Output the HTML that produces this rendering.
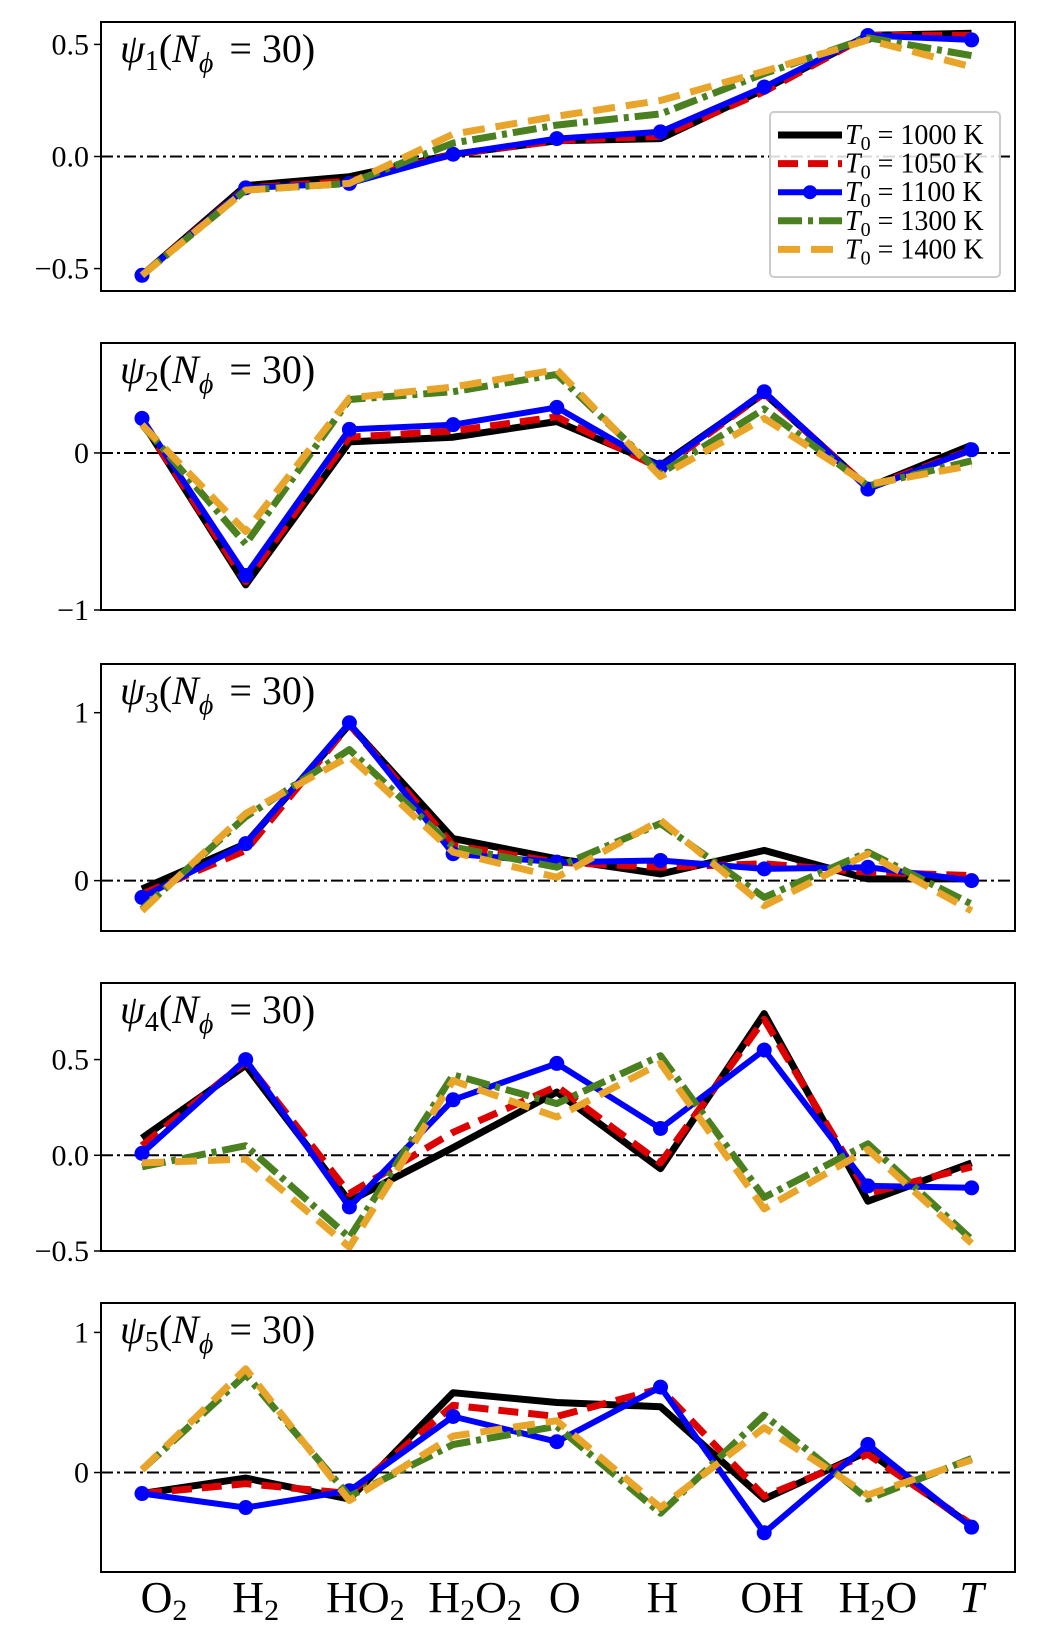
<!DOCTYPE html>
<html><head><meta charset="utf-8">
<style>
html,body{margin:0;padding:0;background:#fff;}
svg{display:block;font-family:"Liberation Serif","DejaVu Serif",serif;}
</style></head>
<body>
<svg id="chart" width="1037" height="1625" viewBox="0 0 1037 1625" xmlns="http://www.w3.org/2000/svg"></svg>
<script>
const categories = ["O2","H2","HO2","H2O2","O","H","OH","H2O","T"];
const seriesNames = ["T0 = 1000 K","T0 = 1050 K","T0 = 1100 K","T0 = 1300 K","T0 = 1400 K"];
const psi1_1000 = [-0.53,-0.13,-0.09,0.01,0.07,0.08,0.30,0.54,0.55];
const psi1_1050 = [-0.53,-0.14,-0.11,0.01,0.07,0.09,0.29,0.54,0.54];
const psi1_1100 = [-0.53,-0.14,-0.12,0.01,0.08,0.11,0.31,0.54,0.52];
const psi1_1300 = [-0.53,-0.15,-0.12,0.06,0.14,0.19,0.37,0.53,0.45];
const psi1_1400 = [-0.53,-0.15,-0.12,0.10,0.18,0.25,0.38,0.52,0.40];
const psi2_1000 = [0.20,-0.84,0.07,0.10,0.20,-0.08,0.38,-0.22,0.05];
const psi2_1050 = [0.20,-0.82,0.10,0.14,0.23,-0.10,0.38,-0.22,0.02];
const psi2_1100 = [0.22,-0.78,0.15,0.18,0.29,-0.09,0.39,-0.23,0.02];
const psi2_1300 = [0.18,-0.58,0.34,0.39,0.50,-0.13,0.28,-0.21,-0.05];
const psi2_1400 = [0.18,-0.50,0.35,0.42,0.53,-0.15,0.22,-0.20,-0.08];
const psi3_1000 = [-0.05,0.22,0.93,0.25,0.13,0.04,0.18,0.01,0.01];
const psi3_1050 = [-0.08,0.18,0.93,0.21,0.11,0.08,0.10,0.05,0.03];
const psi3_1100 = [-0.10,0.22,0.94,0.16,0.11,0.12,0.07,0.08,0.00];
const psi3_1300 = [-0.17,0.38,0.78,0.20,0.08,0.34,-0.10,0.17,-0.14];
const psi3_1400 = [-0.18,0.40,0.74,0.17,0.02,0.36,-0.15,0.16,-0.18];
const psi4_1000 = [0.09,0.47,-0.24,0.04,0.33,-0.07,0.74,-0.24,-0.04];
const psi4_1050 = [0.05,0.49,-0.20,0.12,0.36,-0.04,0.71,-0.20,-0.06];
const psi4_1100 = [0.01,0.50,-0.27,0.29,0.48,0.14,0.55,-0.16,-0.17];
const psi4_1300 = [-0.06,0.05,-0.43,0.42,0.27,0.52,-0.22,0.06,-0.44];
const psi4_1400 = [-0.04,-0.02,-0.48,0.39,0.20,0.48,-0.28,0.03,-0.46];
const psi5_1000 = [-0.15,-0.04,-0.19,0.57,0.50,0.47,-0.19,0.15,-0.38];
const psi5_1050 = [-0.15,-0.08,-0.15,0.48,0.40,0.60,-0.17,0.13,-0.37];
const psi5_1100 = [-0.15,-0.25,-0.13,0.40,0.22,0.61,-0.43,0.20,-0.39];
const psi5_1300 = [0.02,0.70,-0.17,0.20,0.33,-0.29,0.41,-0.19,0.10];
const psi5_1400 = [0.02,0.74,-0.20,0.26,0.37,-0.25,0.32,-0.16,0.09];
const ticks1 = [0.5,0.0,-0.5], tickLabels1 = ["0.5","0.0","\u22120.5"];
const ticks2 = [0,-1], tickLabels2 = ["0","\u22121"];
const ticks3 = [1,0], tickLabels3 = ["1","0"];
const ticks4 = [0.5,0.0,-0.5], tickLabels4 = ["0.5","0.0","\u22120.5"];
const ticks5 = [1,0], tickLabels5 = ["1","0"];

const NS="http://www.w3.org/2000/svg";
const svg=document.getElementById('chart');
function mk(tag,attrs,parent){const e=document.createElementNS(NS,tag);for(const k in attrs)e.setAttribute(k,attrs[k]);(parent||svg).appendChild(e);return e;}
const X0=101,X1=1015;
const xScale=i=>142+i*103.7;
const styles=[
 {c:"#000000",w:7,d:null,m:false},
 {c:"#dd0000",w:7,d:"20 10",m:false},
 {c:"#0000ff",w:6,d:null,m:true},
 {c:"#4a8020",w:7,d:"24 6 5 6",m:false},
 {c:"#e8a52a",w:7,d:"22 11",m:false}
];
const panels=[
 {top:22,bot:291,ymin:-0.6,ymax:0.6,ticks:ticks1,labels:tickLabels1,data:[psi1_1000,psi1_1050,psi1_1100,psi1_1300,psi1_1400],n:"1"},
 {top:343,bot:610,ymin:-1.0,ymax:0.70,ticks:ticks2,labels:tickLabels2,data:[psi2_1000,psi2_1050,psi2_1100,psi2_1300,psi2_1400],n:"2"},
 {top:664,bot:931,ymin:-0.30,ymax:1.29,ticks:ticks3,labels:tickLabels3,data:[psi3_1000,psi3_1050,psi3_1100,psi3_1300,psi3_1400],n:"3"},
 {top:983,bot:1251,ymin:-0.50,ymax:0.90,ticks:ticks4,labels:tickLabels4,data:[psi4_1000,psi4_1050,psi4_1100,psi4_1300,psi4_1400],n:"4"},
 {top:1303,bot:1572,ymin:-0.71,ymax:1.21,ticks:ticks5,labels:tickLabels5,data:[psi5_1000,psi5_1050,psi5_1100,psi5_1300,psi5_1400],n:"5"}
];
panels.forEach((p,pi)=>{
  const g=mk('g',{});
  
  
  const y=v=>p.bot-(v-p.ymin)/(p.ymax-p.ymin)*(p.bot-p.top);
  const cid='clip'+pi;
  const cp=mk('clipPath',{id:cid},g);mk('rect',{x:X0,y:p.top,width:X1-X0,height:p.bot-p.top},cp);
  const zl=mk('line',{x1:X0,x2:X1,y1:y(0),y2:y(0),stroke:"#000","stroke-width":2,"stroke-dasharray":"12 4 3 4"},g);
  
  
  p.data.forEach((arr,si)=>{
    const s=styles[si];
    const pts=arr.map((v,i)=>xScale(i).toFixed(1)+","+y(v).toFixed(1)).join(" ");
    const a={points:pts,fill:"none",stroke:s.c,"stroke-width":s.w,"stroke-linejoin":"round","clip-path":"url(#"+cid+")"};
    if(s.d)a["stroke-dasharray"]=s.d;
    const pl=mk('polyline',a,g);
    
    
    if(s.m){arr.forEach((v,i)=>{const c=mk('circle',{cx:xScale(i),cy:y(v),r:7.5,fill:s.c},g);
      
      });}
  });
  const fr=mk('rect',{x:X0,y:p.top,width:X1-X0,height:p.bot-p.top,fill:"none",stroke:"#000","stroke-width":2},g);
  
  
  p.ticks.forEach((t,ti)=>{
    mk('line',{x1:X0-7,x2:X0,y1:y(t),y2:y(t),stroke:"#000","stroke-width":1.5},g);
    const tx=mk('text',{x:X0-12,y:y(t)+10,"text-anchor":"end","font-size":30},g);
    tx.textContent=p.labels[ti];
    
    
  });
  const tt=mk('text',{x:120,y:p.top+40,"font-size":40},g);
  
  
  tt.innerHTML='<tspan font-style="italic">ψ</tspan><tspan font-size="28" dy="8">'+p.n+'</tspan><tspan dy="-8">(</tspan><tspan font-style="italic">N</tspan><tspan font-style="italic" font-size="28" dy="10">ϕ</tspan><tspan dy="-10"> </tspan><tspan dx="6">=</tspan><tspan dx="10">30)</tspan>';
});
// x labels
const xl=[["O","2"],["H","2"],["HO","2"],["H","2","O","2"],["O"],["H"],["OH"],["H","2","O"],["T"]];
const xlOff=[22,10,16,22,8,2,8,10,0];
xl.forEach((parts,i)=>{
  const t=mk('text',{x:xScale(i)+xlOff[i],y:1612,"text-anchor":"middle","font-size":44});
  
  
  let h='';
  parts.forEach((s,k)=>{
    if(/^\d$/.test(s))h+='<tspan font-size="30" dy="8">'+s+'</tspan>';
    else if(k>0&&/^\d$/.test(parts[k-1]))h+='<tspan dy="-8">'+s+'</tspan>';
    else h+= (s==="T"?'<tspan font-style="italic">T</tspan>':'<tspan>'+s+'</tspan>');
  });
  t.innerHTML=h;
});
// legend
const lg=mk('g',{});


mk('rect',{x:770,y:112,width:230,height:165,rx:4,fill:"rgba(255,255,255,0.85)",stroke:"#ccc","stroke-width":2},lg);
seriesNames.forEach((nm,si)=>{
  const s=styles[si];const ly=135+si*28.6;
  const e=mk('g',{},lg);
  
  
  const a={x1:778,x2:842,y1:ly,y2:ly,stroke:s.c,"stroke-width":s.w};
  if(s.d)a["stroke-dasharray"]=s.d;
  mk('line',a,e);
  if(s.m)mk('circle',{cx:810,cy:ly,r:7,fill:s.c},e);
  const t=mk('text',{x:845,y:ly+9,"font-size":28},e);
  t.innerHTML='<tspan font-style="italic">T</tspan><tspan font-size="20" dy="6">0</tspan><tspan dy="-6"> = '+nm.replace(/\D/g,'').replace(/^0/,'')+' K</tspan>';
});
</script>
</body></html>
